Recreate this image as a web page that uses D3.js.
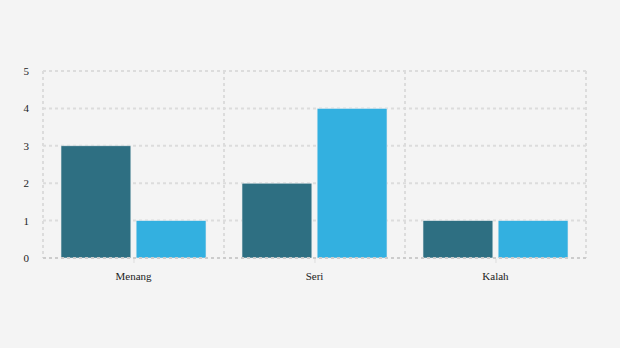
<!DOCTYPE html>
<html>
<head>
<meta charset="utf-8">
<script src="https://cdn.jsdelivr.net/npm/d3@7"></script>
<style>
  body { margin: 0; background: #f4f4f4; }
  text { font-family: "Liberation Serif", serif; font-size: 11px; fill: #222; }
</style>
</head>
<body>
<div id="chart"></div>
<script>
// data
var categories = ["Menang", "Seri", "Kalah"];
var seriesA = [3, 2, 1];
var seriesB = [1, 4, 1];
var yTicks = [0, 1, 2, 3, 4, 5];
var colors = ["#2e6f82", "#33b0e0"];

var W = 620, H = 348;
var margin = {top: 71, right: 34, bottom: 90, left: 43};
var width = W - margin.left - margin.right,
    height = H - margin.top - margin.bottom;

var svg = d3.select("#chart").append("svg")
  .attr("width", W).attr("height", H)
  .style("background", "#f4f4f4");

var g = svg.append("g").attr("transform", "translate(" + margin.left + "," + margin.top + ")");

var x = d3.scaleBand().domain(categories).range([0, width]).paddingInner(0).paddingOuter(0);
var x1 = d3.scaleBand().domain([0, 1]).range([18, x.bandwidth() - 18]).paddingInner(0.07);
var y = d3.scaleLinear().domain([0, 5]).range([height, 0]);

// grid
g.selectAll(".hgrid").data(yTicks.filter(d => d > 0)).enter().append("line")
  .attr("x1", 0).attr("x2", width)
  .attr("y1", d => y(d)).attr("y2", d => y(d))
  .attr("stroke", "#dcdcdc").attr("stroke-width", 2).attr("stroke-dasharray", "3,3");

var vlines = categories.map(c => x(c)).concat([width]);
g.selectAll(".vgrid").data(vlines).enter().append("line")
  .attr("x1", d => d).attr("x2", d => d)
  .attr("y1", 0).attr("y2", height)
  .attr("stroke", "#dcdcdc").attr("stroke-width", 2).attr("stroke-dasharray", "3,3");

// bars
var groups = g.selectAll(".grp").data(categories).enter().append("g")
  .attr("transform", d => "translate(" + x(d) + ",0)");

groups.selectAll("rect").data((d, i) => [seriesA[i], seriesB[i]]).enter().append("rect")
  .attr("x", (d, j) => x1(j))
  .attr("width", x1.bandwidth())
  .attr("y", d => y(d))
  .attr("height", d => height - y(d))
  .attr("fill", (d, j) => colors[j])
  .attr("stroke", "#e6ecee").attr("stroke-width", 0.6);

// baseline
g.append("line")
  .attr("x1", 0).attr("x2", width)
  .attr("y1", height).attr("y2", height)
  .attr("stroke", "#cccccc").attr("stroke-width", 2).attr("stroke-dasharray", "3,3");

// y labels
g.selectAll(".ylab").data(yTicks).enter().append("text")
  .attr("x", -14).attr("y", d => y(d) + 4)
  .attr("text-anchor", "end")
  .text(d => d);

// x axis ticks + labels
var xa = g.append("g").attr("transform", "translate(0," + height + ")");
xa.selectAll("line").data(categories).enter().append("line")
  .attr("x1", d => x(d) + x.bandwidth() / 2 + 0.5).attr("x2", d => x(d) + x.bandwidth() / 2 + 0.5)
  .attr("y1", 1).attr("y2", 5)
  .attr("stroke", "#dddddd");
xa.selectAll("text").data(categories).enter().append("text")
  .attr("x", d => x(d) + x.bandwidth() / 2)
  .attr("y", 22)
  .attr("text-anchor", "middle")
  .text(d => d);
</script>
</body>
</html>
